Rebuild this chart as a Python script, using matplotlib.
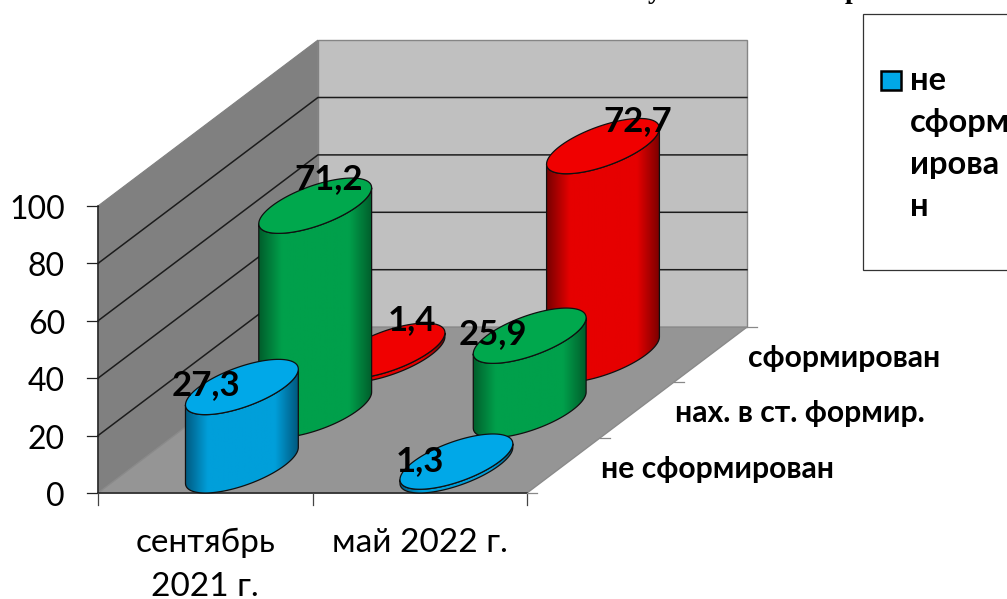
import numpy as np
import matplotlib
matplotlib.use('Agg')
import matplotlib.pyplot as plt
from matplotlib.colors import LinearSegmentedColormap
from matplotlib.patches import Polygon, Rectangle

categories = [['сентябрь', '2021 г.'], ['май 2022 г.']]
series_names = ['не сформирован', 'нах. в ст. формир.', 'сформирован']
not_formed = [27.3, 1.3]
in_progress = [71.2, 25.9]
formed = [1.4, 72.7]
series_values = [not_formed, in_progress, formed]
y_ticks = [0, 20, 40, 60, 80, 100]

# label shifts from the top of each cylinder, px
label_shift = [[(-36, -2), (-37, -1)], [(13, -27), (-37, -2)], [(23, -31), (35, -25)]]

side_colors = [('#005a80', '#009fda'), ('#005f2c', '#00a04b'), ('#7a0000', '#e60000')]
top_colors = ['#00a8e8', '#00a84d', '#f00000']

# projection of the 3d box on to the page, px
X0, Y0 = 98, 493
UNIT_CAT = 214.5
UNIT_SER_X = 73.3
UNIT_SER_Y = 55.3
UNIT_VAL = 2.87
R_CAT, R_SER = 0.2, 0.5


def proj(cat, ser, val=0):
    return X0 + UNIT_CAT * cat + UNIT_SER_X * ser, Y0 - UNIT_SER_Y * ser - UNIT_VAL * val


plt.rcParams['font.family'] = ['Lato', 'Open Sans', 'DejaVu Sans']

fig = plt.figure(figsize=(10.07, 5.99), dpi=100)
ax = fig.add_axes([0, 0, 1, 1])
ax.set_axis_off()
ax.set_autoscale_on(False)
ax.set_xlim(0, 1007)
ax.set_ylim(599, 0)

n_cat, n_ser, top_val = 2, 3, y_ticks[-1]

# walls and floor
ax.add_patch(Polygon([proj(0, n_ser), proj(n_cat, n_ser), proj(n_cat, n_ser, top_val), proj(0, n_ser, top_val)],
                     fc='#c0c0c0', ec='#858585', lw=1, zorder=1))
ax.add_patch(Polygon([proj(0, 0), proj(0, n_ser), proj(0, n_ser, top_val), proj(0, 0, top_val)],
                     fc='#808080', ec='#808080', lw=0.8, zorder=1))
ax.add_patch(Polygon([proj(0, 0), proj(n_cat, 0), proj(n_cat, n_ser), proj(0, n_ser)],
                     fc='#959595', ec='#8a8a8a', lw=1, zorder=1))

# grid
for v in y_ticks[1:-1]:
    pts = np.array([proj(0, 0, v), proj(0, n_ser, v), proj(n_cat, n_ser, v)])
    ax.plot(pts[:, 0], pts[:, 1], color='#1c1c1c', lw=1.1, zorder=2)

# axes lines and ticks
ax.plot(*zip(proj(0, 0), proj(0, 0, top_val)), color='#222222', lw=1.1, zorder=2)
ax.plot(*zip(proj(0, 0), proj(n_cat, 0)), color='#222222', lw=1.1, zorder=2)
for v in y_ticks:
    x, y = proj(0, 0, v)
    ax.plot([x - 11, x], [y, y], color='#222222', lw=0.9, zorder=2)
    ax.text(x - 33, y + 4, str(v), ha='right', va='center', fontsize=23, color='black', zorder=6)
for c in range(n_cat + 1):
    x, y = proj(c, 0)
    ax.plot([x, x], [y, y + 12], color='#444444', lw=0.9, zorder=2)
for s in range(n_ser + 1):
    x, y = proj(n_cat, s)
    ax.plot([x, x + 10], [y, y], color='#888888', lw=0.9, zorder=2)
for s, name in enumerate(series_names):
    x, y = proj(n_cat, s + 1)
    ax.text(x + 1, y + 31, name, ha='left', va='center', fontsize=21.7, fontweight='bold', zorder=6)
for c, lines in enumerate(categories):
    x, y = proj(c + 0.5, 0)
    for i, line in enumerate(lines):
        ax.text(x, 552 + 44 * i, line, ha='center', va='baseline', fontsize=24, zorder=6)

# cylinders, farthest first
t = np.linspace(0, 2 * np.pi, 121)
a = R_CAT * UNIT_CAT
b = R_SER * UNIT_SER_X
c_y = R_SER * UNIT_SER_Y
radius = np.hypot(a, b)
t0 = np.arctan2(b, a)
arc = np.linspace(t0, t0 - np.pi, 61)

z = 3
for s in range(n_ser - 1, -1, -1):
    dark, mid = side_colors[s]
    cmap = LinearSegmentedColormap.from_list('side', [(0, dark), (0.2, mid), (0.8, mid), (1, dark)])
    for c in range(n_cat):
        val = series_values[s][c]
        cx, cy0 = proj(c + 0.5, s + 0.5)
        cx, cy1 = proj(c + 0.5, s + 0.5, val)
        bot = np.c_[cx + a * np.cos(arc) + b * np.sin(arc), cy0 - c_y * np.sin(arc)]
        up = np.c_[cx + a * np.cos(arc[::-1]) + b * np.sin(arc[::-1]), cy1 - c_y * np.sin(arc[::-1])]
        body = Polygon(np.r_[bot, up], fc='none', ec='#101010', lw=0.9, zorder=z + 0.2)
        ax.add_patch(body)
        im = ax.imshow(np.linspace(0, 1, 128)[None, :], cmap=cmap, aspect='auto', zorder=z + 0.1,
                       extent=(cx - radius, cx + radius, cy0 + c_y + 1, cy1 - c_y - 1))
        im.set_clip_path(Polygon(np.r_[bot, up], transform=ax.transData))
        cap = np.c_[cx + a * np.cos(t) + b * np.sin(t), cy1 - c_y * np.sin(t)]
        ax.add_patch(Polygon(cap, fc=top_colors[s], ec='#101010', lw=0.9, zorder=z + 0.3))
        z += 1

for s in range(n_ser):
    for c in range(n_cat):
        val = series_values[s][c]
        cx, cy = proj(c + 0.5, s + 0.5, val)
        dx, dy = label_shift[s][c]
        ax.text(cx + dx, cy + dy, str(val).replace('.', ','), ha='center', va='center',
                fontsize=25, fontweight='bold', color='black', zorder=30)

# legend, runs off the page like the original
ax.add_patch(Rectangle((863, 14), 200, 256, fc='white', ec='#333333', lw=0.9, zorder=4))
ax.add_patch(Rectangle((881, 71), 20, 19, fc=top_colors[0], ec='black', lw=1.8, zorder=5))
for i, line in enumerate(['не', 'сформ', 'ирова', 'н']):
    ax.text(910, 80 + 42.3 * i, line, ha='left', va='center', fontsize=23.5, fontweight='bold', zorder=6)

# title is cut by the top of the page, only the tails show
for x_pos, ch in [(655, 'у'), (852, 'р')]:
    ax.text(x_pos, -2, ch, ha='center', va='baseline', fontsize=20, fontweight='bold',
            family='Liberation Serif', zorder=6)

fig.savefig('out.png', dpi=100)
